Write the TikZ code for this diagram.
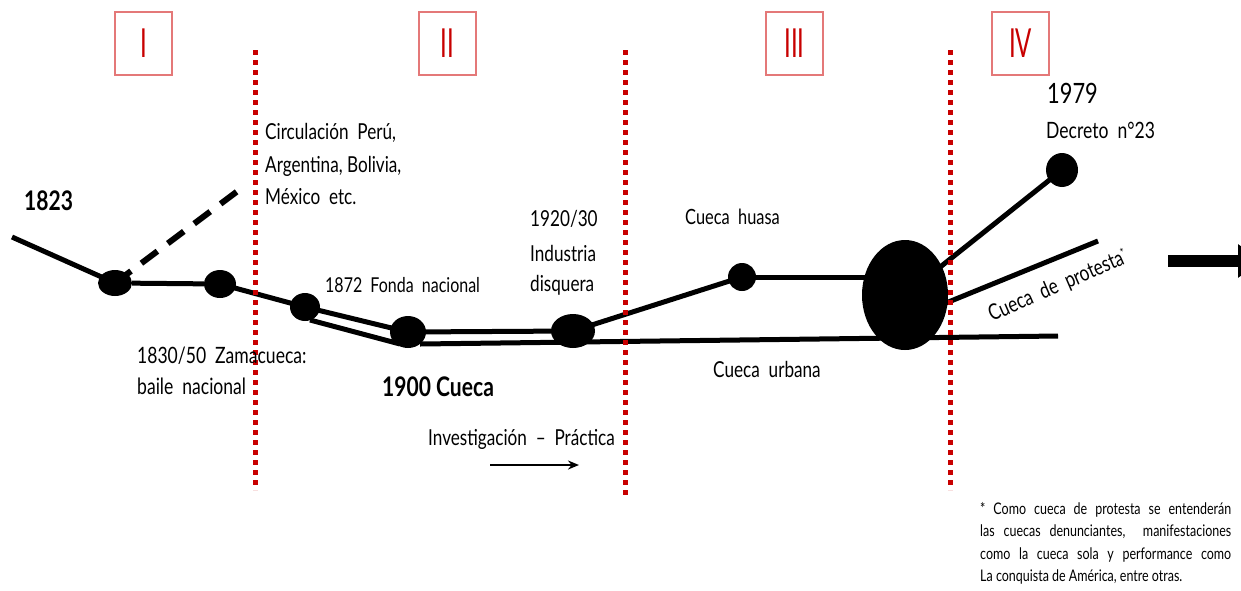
\documentclass[tikz,border=0pt]{standalone}
\usepackage{fontspec}
\setmainfont{Lato}[FakeStretch=0.78]
\newfontfamily\romfont{Lato}[FakeStretch=0.6]
\usetikzlibrary{shapes.geometric,arrows.meta,calc}
\definecolor{dred}{RGB}{200,0,0}
\definecolor{lred}{RGB}{228,120,120}
\begin{document}
\begin{tikzpicture}[x=1pt,y=-1pt,
  dot/.style={ellipse,fill=black,inner sep=0pt},
  tl/.style={line width=5pt,black},
  sep/.style={dred,line width=5pt,dash pattern=on 5pt off 5pt},
  rbox/.style={draw=lred,line width=1.3pt,minimum width=57pt,minimum height=63pt,inner sep=0pt,text=dred,font=\romfont\fontsize{40}{40}\selectfont},
  lab/.style={anchor=base west,inner sep=0pt,font=\fontsize{22}{24}\selectfont},
  foot/.style={inner sep=0pt,font=\fontsize{16}{22.5}\selectfont}]
\useasboundingbox (0,0) rectangle (1241,590);
\clip (0,0) rectangle (1241,590);
\fill[white] (0,0) rectangle (1241,590);

% period boxes
\node[rbox] (b1) at (143.5,43.5) {I};
\node[rbox] (b2) at (447.5,43.5) {II};
\node[rbox] (b3) at (794.5,43.5) {III};
\node[rbox] (b4) at (1020.5,43.5) {IV};

% separators
\coordinate (s1a) at (255,50); \coordinate (s1b) at (255,490);
\coordinate (s2a) at (625,50); \coordinate (s2b) at (625,495);
\coordinate (s3a) at (950,50); \coordinate (s3b) at (950,490);

% nodes
\coordinate (start) at (12,237);
\node[dot,minimum width=34pt,minimum height=26pt] (A) at (115,283) {};
\node[dot,minimum width=32pt,minimum height=28pt] (B) at (220,284) {};
\node[dot,minimum width=30pt,minimum height=28pt] (C) at (305,307) {};
\node[dot,minimum width=36pt,minimum height=32pt] (D) at (408,332) {};
\node[dot,minimum width=44pt,minimum height=34pt] (E) at (573,331) {};
\node[dot,minimum width=28pt,minimum height=28pt] (F) at (742,277) {};
\node[dot,minimum width=86pt,minimum height=110pt] (G) at (905,295) {};
\node[dot,minimum width=32pt,minimum height=34pt] (H) at (1062,170) {};
\coordinate (dashend) at (247,184);
\coordinate (Cl) at (310,320);
\coordinate (Dl) at (400,344);
\coordinate (Dl2) at (420,344);
\coordinate (urbend) at (1058,336);
\coordinate (prot) at (1098,241);
\coordinate (Gp) at (946,303);
\coordinate (Fl) at (742,277);
\coordinate (Gl) at (870,277);

% connectors
\draw[tl] (start) -- (A.center);
\draw[black,line width=6pt,dash pattern=on 20pt off 13pt] (A.center) -- (dashend);
\draw[tl] (A) -- (B);
\draw[tl] (B.center) -- (C.center);
\draw[tl] (C.center) -- (D.center);
\draw[tl] (Cl) -- (Dl);
\draw[tl] (D.center) -- (E.center);
\draw[tl] (Dl2) -- (urbend);
\draw[tl] (E.center) -- (F.center);
\draw[tl] (Fl) -- (Gl);
\draw[tl] (G.center) -- (H.center);
\draw[tl] (Gp) -- (prot);

\draw[sep] (s1a) -- (s1b);
\draw[sep] (s2a) -- (s2b);
\draw[sep] (s3a) -- (s3b);

% big arrow
\coordinate (ar1) at (1168,261); \coordinate (ar2) at (1262,261);
\draw[black,line width=12pt,-{Triangle[length=24pt,width=32pt]}] (ar1) -- (ar2);

% small arrow
\coordinate (sa1) at (490,465); \coordinate (sa2) at (579,465);
\draw[black,line width=2.5pt,-{Stealth[length=11pt,width=9pt]}] (sa1) -- (sa2);

% labels
\node[lab,font=\bfseries\fontsize{27}{30}\selectfont] (t1823) at (24,210) {1823};
\node[lab] (c1) at (265,139) {Circulación\ \ Perú,};
\node[lab] (c2) at (265,172) {Argentina, Bolivia,};
\node[lab] (c3) at (265,204) {México\ \ etc.};
\node[lab,font=\fontsize{20.5}{24}\selectfont] (f1872) at (325,292) {1872\ \ Fonda\ \ nacional};
\node[lab,font=\fontsize{22.5}{24}\selectfont] (z1) at (137,363) {1830/50\ \ Zamacueca:};
\node[lab,font=\fontsize{22.5}{24}\selectfont] (z2) at (137,394) {baile\ \ nacional};
\node[lab,font=\bfseries\fontsize{27}{30}\selectfont] (c1900) at (382,396) {1900 Cueca};
\node[lab] (i1) at (530,226) {1920/30};
\node[lab] (i2) at (530,261) {Industria};
\node[lab] (i3) at (530,291) {disquera};
\node[lab] (inv) at (428,445) {Investigación\ \ --\ \ Práctica};
\node[lab,font=\fontsize{21}{24}\selectfont] (hua) at (685,224) {Cueca\ \ huasa};
\node[lab] (urb) at (713,377) {Cueca\ \ urbana};
\node[lab,font=\fontsize{28}{30}\selectfont] (y1979) at (1047,103) {1979};
\node[lab,font=\fontsize{22.5}{24}\selectfont] (dec) at (1046,138) {Decreto\ \ n°23};
\node[lab,rotate=23.5] (pro) at (992,322) {Cueca\ \ de\ \ protesta\raisebox{7pt}{\fontsize{12}{12}\selectfont *}};

% footnote
\node[foot,text width=251pt,align=justify,anchor=north west] (fn) at (980,502)
 {* Como cueca de protesta se entenderán\linebreak las cuecas denunciantes,\ \ manifestaciones\linebreak como la cueca sola y performance como\linebreak La conquista de América, entre otras.};
\end{tikzpicture}
\end{document}
